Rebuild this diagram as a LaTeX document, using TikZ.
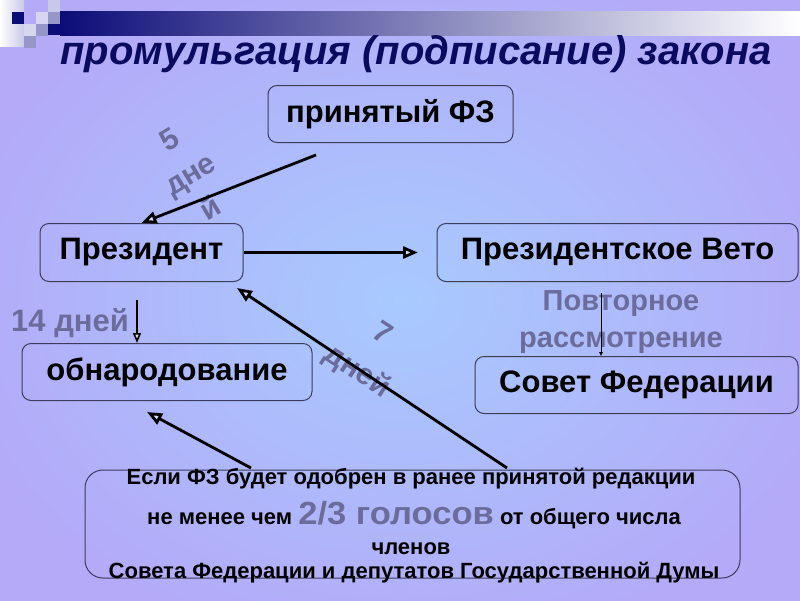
\documentclass[tikz,border=0pt]{standalone}
\usepackage{fontspec}
\usepackage{graphicx}
\setmainfont{Liberation Sans}
\usetikzlibrary{arrows.meta}
\definecolor{bgin}{RGB}{168,202,255}
\definecolor{bgout}{RGB}{180,170,248}
\definecolor{navy}{RGB}{12,12,120}
\definecolor{titlec}{RGB}{10,10,95}
\definecolor{lbl}{RGB}{108,108,156}
\definecolor{edgec}{RGB}{60,60,92}
\definecolor{tipfill}{RGB}{215,220,245}
\definecolor{sqlight}{RGB}{214,214,240}
\definecolor{sqgray}{RGB}{150,150,200}
\definecolor{sqpale}{RGB}{200,200,232}
\tikzset{
  box/.style={draw=edgec, line width=1pt, rounded corners=9pt, inner sep=0pt,
    font=\fontsize{31}{34}\selectfont\bfseries, text=black},
  conn/.style={line width=2.8pt, -{Triangle[length=15pt,width=12pt,fill=tipfill]}},
  thinconn/.style={line width=1.6pt, -{Triangle[length=10pt,width=8pt,fill=tipfill]}},
  hairconn/.style={line width=0.9pt, -{Triangle[length=4pt,width=3.5pt,fill=tipfill]}},
  lbltext/.style={text=lbl, font=\fontsize{30}{42}\selectfont\bfseries, inner sep=0pt, align=center},
  bodytext/.style={text=black, font=\fontsize{22}{24}\selectfont\bfseries, inner sep=0pt, anchor=base}
}
\begin{document}
\begin{tikzpicture}[x=1pt,y=-1pt]
\path[use as bounding box] (0,0) rectangle (800,600);
\shade[inner color=bgin, outer color=bgout] (-60,-60) rectangle (860,660);
% decoration
\shade[left color=white, right color=sqpale] (0,0) rectangle (24,46);
\fill[navy] (12,12) rectangle (24,24);
\fill[sqpale] (48,0) rectangle (60,12);
\fill[sqlight] (36,12) rectangle (48,24);
\fill[sqgray] (48,12) rectangle (60,24);
\fill[sqlight] (24,24) rectangle (36,36);
\fill[sqgray] (36,24) rectangle (48,36);
\fill[sqgray] (24,36) rectangle (36,48);
\fill[navy] (48,24) rectangle (60,35);
\shade[left color=navy, right color=white] (60,11) rectangle (800,35);
% title
\node[text=titlec, font=\fontsize{40}{44}\selectfont\bfseries\itshape, inner sep=0pt, anchor=base] (title) at (416,64) {промульгация (подписание) закона};
% boxes
\node[box, minimum width=245pt, minimum height=57pt] (fz) at (390.5,114) {принятый ФЗ};
\node[box, minimum width=203pt, minimum height=58pt] (pres) at (141.5,252.5) {Президент};
\node[box, minimum width=290pt, minimum height=57pt] (obn) at (167,372) {обнародование};
\node[box, minimum width=361pt, minimum height=58pt] (veto) at (617.5,252.5) {Президентское Вето};
\node[box, minimum width=323pt, minimum height=57pt] (sf) at (636.5,385) {Совет Федерации};
\node[draw=edgec, line width=1pt, rounded corners=18pt, minimum width=655pt, minimum height=108pt, inner sep=0pt] (cond) at (412.5,524) {};
% bottom text
\node[bodytext] (l1) at (411,484) {Если ФЗ будет одобрен в ранее принятой редакции};
\node[bodytext] (l2) at (414,524) {не менее чем {\color{lbl}\fontsize{32}{34}\selectfont\bfseries\scalebox{1.08}[1]{2/3 голосов}} от общего числа};
\node[bodytext] (l3) at (411,554) {членов};
\node[bodytext] (l4) at (414,578) {Совета Федерации и депутатов Государственной Думы};
% labels
\node[text=lbl, inner sep=0pt, font=\fontsize{30}{40}\selectfont\bfseries] (d5) at (191,176)
  {\rotatebox{31}{\begin{tabular}{@{}c@{}}5\\дне\\й\end{tabular}}};
\node[text=lbl, inner sep=0pt, font=\fontsize{30}{45}\selectfont\bfseries] (d7) at (370,352)
  {\rotatebox{-33}{\begin{tabular}{@{}c@{}}7\\дней\end{tabular}}};
\node[lbltext, anchor=west, font=\fontsize{31}{42}\selectfont\bfseries] (d14) at (11,323) {14 дней};
\node[lbltext, font=\fontsize{29}{37}\selectfont\bfseries] (rep) at (621,322) {Повторное\\рассмотрение};
% connectors
\coordinate (s1) at (316,155);
\coordinate (t2) at (418,252.5);
\coordinate (s3) at (507,468);
\coordinate (t3) at (237,288);
\coordinate (s4) at (251,468);
\coordinate (t4) at (147,412);
\coordinate (s5) at (137,300);
\coordinate (s6) at (601,293);
\draw[conn] (s1) -- (pres.north);
\draw[conn] (pres.east) -- (t2);
\draw[conn] (s3) -- (t3);
\draw[conn] (s4) -- (t4);
\draw[thinconn] (s5) -- (s5 |- obn.north);
\draw[hairconn] (s6) -- (s6 |- sf.north);
\end{tikzpicture}
\end{document}
